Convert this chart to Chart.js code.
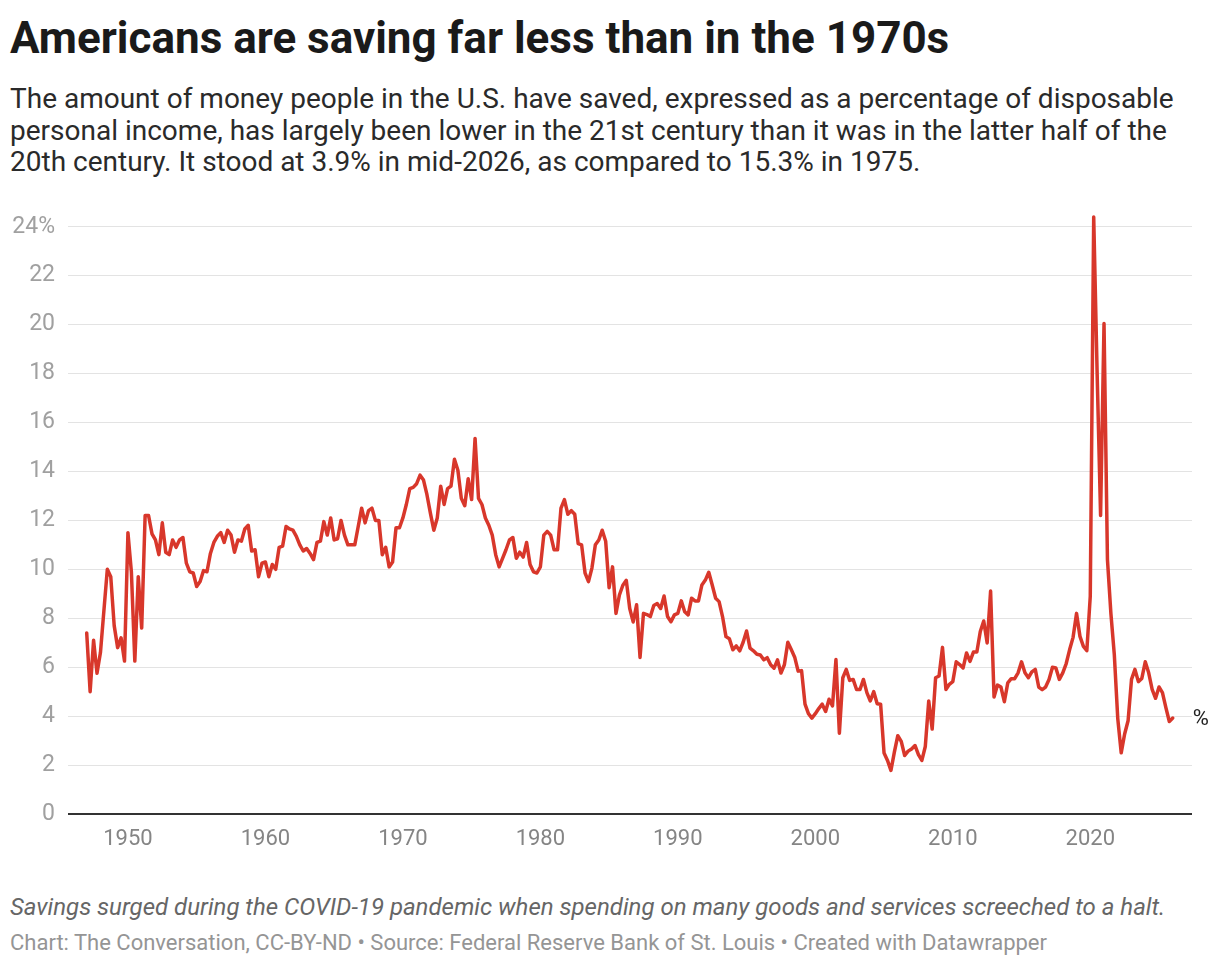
<!DOCTYPE html>
<html>
<head>
<meta charset="utf-8">
<title>Americans are saving far less than in the 1970s</title>
<script src="https://cdn.jsdelivr.net/npm/chart.js@4.4.1/dist/chart.umd.min.js"></script>
<style>
  body {
    margin: 0;
    width: 1220px;
    height: 968px;
    background: #fff;
    font-family: Roboto, "Noto Sans", sans-serif;
    position: relative;
    overflow: hidden;
  }
  h1 {
    position: absolute;
    left: 10px;
    top: 12px;
    margin: 0;
    font-size: 44px;
    font-weight: 700;
    color: #1a1a1a;
    white-space: nowrap;
  }
  .subtitle {
    position: absolute;
    left: 10px;
    top: 83px;
    font-size: 28px;
    line-height: 31.5px;
    color: #2a2a2a;
    white-space: nowrap;
  }
  #wrap {
    position: absolute;
    left: 0;
    top: 200px;
  }
  .note {
    position: absolute;
    left: 10px;
    top: 893px;
    font-size: 24px;
    font-style: italic;
    color: #666;
    white-space: nowrap;
  }
  .source {
    position: absolute;
    left: 10px;
    top: 930px;
    font-size: 22px;
    color: #959595;
    white-space: nowrap;
  }
</style>
</head>
<body>
<h1>Americans are saving far less than in the 1970s</h1>
<div class="subtitle">
  The amount of money people in the U.S. have saved, expressed as a percentage of disposable<br>
  personal income, has largely been lower in the 21st century than it was in the latter half of the<br>
  20th century. It stood at 3.9% in mid-2026, as compared to 15.3% in 1975.
</div>
<div id="wrap"><canvas id="chart" width="1220" height="668"></canvas></div>
<div class="note">Savings surged during the COVID-19 pandemic when spending on many goods and services screeched to a halt.</div>
<div class="source">Chart: The Conversation, CC-BY-ND • Source: Federal Reserve Bank of St. Louis • Created with Datawrapper</div>

<script>
// ===========================
// Data: personal saving rate, % of disposable income, quarterly from Q1 1947
const firstYear = 1947;
const savingRate = [
  7.4, 5.0, 7.1, 5.75,      // 1947
  6.6, 8.3, 10.0, 9.7,      // 1948
  7.7, 6.8, 7.2, 6.25,      // 1949
  11.5, 9.9, 6.25, 9.7,     // 1950
  7.6, 12.2, 12.2, 11.45,   // 1951
  11.2, 10.6, 11.9, 10.7,   // 1952
  10.6, 11.2, 10.9, 11.2,   // 1953
  11.3, 10.25, 9.9, 9.85,   // 1954
  9.3, 9.5, 9.95, 9.9,      // 1955
  10.65, 11.1, 11.35, 11.5, // 1956
  11.1, 11.6, 11.4, 10.7,   // 1957
  11.2, 11.15, 11.65, 11.8, // 1958
  10.75, 10.8, 9.7, 10.25,  // 1959
  10.3, 9.7, 10.2, 10.0,    // 1960
  10.9, 10.95, 11.75, 11.65,// 1961
  11.6, 11.35, 11.0, 10.75, // 1962
  10.85, 10.65, 10.4, 11.1, // 1963
  11.15, 11.95, 11.4, 12.1, // 1964
  11.2, 11.25, 12.0, 11.4,  // 1965
  11.0, 11.0, 11.0, 11.75,  // 1966
  12.5, 11.9, 12.4, 12.5,   // 1967
  12.0, 12.0, 10.6, 10.9,   // 1968
  10.1, 10.3, 11.7, 11.7,   // 1969
  12.1, 12.65, 13.3, 13.35, // 1970
  13.5, 13.85, 13.65, 13.05,// 1971
  12.3, 11.6, 12.1, 13.4,   // 1972
  12.65, 13.3, 13.4, 14.5,  // 1973
  14.05, 12.9, 12.6, 13.7,  // 1974
  12.85, 15.35, 12.9, 12.65,// 1975
  12.1, 11.8, 11.4, 10.6,   // 1976
  10.1, 10.45, 10.8, 11.2,  // 1977
  11.3, 10.45, 10.7, 10.5,  // 1978
  11.1, 10.2, 9.9, 9.85,    // 1979
  10.1, 11.4, 11.55, 11.4,  // 1980
  10.8, 10.8, 12.5, 12.85,  // 1981
  12.25, 12.4, 12.25, 11.05,// 1982
  11.0, 9.85, 9.5, 10.05,   // 1983
  11.0, 11.2, 11.6, 11.15,  // 1984
  9.25, 10.1, 8.2, 8.95,    // 1985
  9.35, 9.55, 8.4, 7.85,    // 1986
  8.55, 6.4, 8.2, 8.15,     // 1987
  8.07, 8.52, 8.6, 8.4,     // 1988
  8.91, 8.07, 7.86, 8.14,   // 1989
  8.2, 8.71, 8.27, 8.14,    // 1990
  8.82, 8.71, 8.71, 9.36,   // 1991
  9.56, 9.88, 9.36, 8.82,   // 1992
  8.68, 8.07, 7.25, 7.16,   // 1993
  6.71, 6.87, 6.67, 7.02,   // 1994
  7.48, 6.78, 6.67, 6.53,   // 1995
  6.5, 6.3, 6.39, 6.1,      // 1996
  5.96, 6.3, 5.76, 6.1,     // 1997
  7.02, 6.72, 6.41, 5.84,   // 1998
  5.86, 4.49, 4.1, 3.92,    // 1999
  4.1, 4.31, 4.49, 4.19,    // 2000
  4.69, 4.42, 6.31, 3.3,    // 2001
  5.57, 5.91, 5.46, 5.5,    // 2002
  5.09, 5.09, 5.5, 4.96,    // 2003
  4.62, 5.0, 4.51, 4.49,    // 2004
  2.49, 2.19, 1.78, 2.53,   // 2005
  3.2, 2.97, 2.39, 2.57,    // 2006
  2.66, 2.8, 2.43, 2.19,    // 2007
  2.76, 4.62, 3.47, 5.57,   // 2008
  5.64, 6.81, 5.09, 5.3,    // 2009
  5.41, 6.22, 6.11, 5.97,   // 2010
  6.58, 6.24, 6.62, 6.62,   // 2011
  7.46, 7.89, 6.99, 9.11,   // 2012
  4.78, 5.27, 5.19, 4.59,   // 2013
  5.36, 5.53, 5.53, 5.77,   // 2014
  6.22, 5.77, 5.57, 5.81,   // 2015
  5.91, 5.19, 5.08, 5.19,   // 2016
  5.5, 6.0, 5.97, 5.5,      // 2017
  5.77, 6.15, 6.72, 7.22,   // 2018
  8.2, 7.26, 6.85, 6.68,    // 2019
  8.9, 24.4, 18.0, 12.2,    // 2020
  20.05, 10.4, 8.2, 6.5,    // 2021
  3.9, 2.5, 3.27, 3.81,     // 2022
  5.5, 5.91, 5.41, 5.54,    // 2023
  6.22, 5.77, 5.09, 4.73,   // 2024
  5.19, 4.96, 4.35, 3.78,   // 2025
  3.92                      // 2026
];
const yearTicks = [1950, 1960, 1970, 1980, 1990, 2000, 2010, 2020];
const rateTicks = [0, 2, 4, 6, 8, 10, 12, 14, 16, 18, 20, 22, 24];
const seriesLabel = "%";

const lineColor = "#d8372b";

// quarter dates for each value
const points = savingRate.map((v, i) => ({ x: firstYear + i / 4, y: v }));

// ===========================
// "%" label at the end of the line
const endLabel = {
  id: "endLabel",
  afterDatasetsDraw(chart) {
    const meta = chart.getDatasetMeta(0);
    const last = meta.data[meta.data.length - 1];
    const ctx = chart.ctx;
    ctx.save();
    ctx.font = "22px Roboto";
    ctx.fillStyle = "#222";
    ctx.textBaseline = "middle";
    ctx.textAlign = "left";
    ctx.fillText(seriesLabel, last.x + 20, last.y + 1);
    ctx.restore();
  }
};

Chart.defaults.font.family = "Roboto";

new Chart(document.getElementById("chart"), {
  type: "line",
  plugins: [endLabel],
  data: {
    datasets: [{
      data: points,
      borderColor: lineColor,
      borderWidth: 3.5,
      pointRadius: 0,
      tension: 0,
      borderJoinStyle: "round",
      borderCapStyle: "round",
      clip: false,
    }],
  },
  options: {
    responsive: false,
    animation: false,
    parsing: false,
    layout: { padding: { top: 24, right: 28, bottom: 0, left: 0 } },
    plugins: {
      legend: { display: false },
      tooltip: { enabled: false },
    },
    scales: {
      x: {
        type: "linear",
        min: 1945.64,
        max: 2027.4,
        afterFit: s => { s.height = 54; },
        afterBuildTicks: s => { s.ticks = yearTicks.map(v => ({ value: v })); },
        grid: { display: false, drawTicks: false },
        border: { display: false },
        ticks: {
          padding: 12,
          color: "#858585",
          font: { size: 22 },
          maxRotation: 0,
          autoSkip: false,
          callback: v => String(v),
        },
      },
      y: {
        min: 0,
        max: 24,
        afterFit: s => { s.width = 68; },
        afterBuildTicks: s => { s.ticks = rateTicks.map(v => ({ value: v })); },
        grid: {
          drawTicks: false,
          color: c => c.tick.value === 0 ? "#333" : "#e3e3e3",
          lineWidth: c => c.tick.value === 0 ? 2 : 1,
        },
        border: { display: false },
        ticks: {
          padding: 13,
          color: "#a0a0a0",
          font: { size: 23 },
          callback: v => v === 24 ? "24%" : String(v),
        },
      },
    },
  },
});
</script>
</body>
</html>
